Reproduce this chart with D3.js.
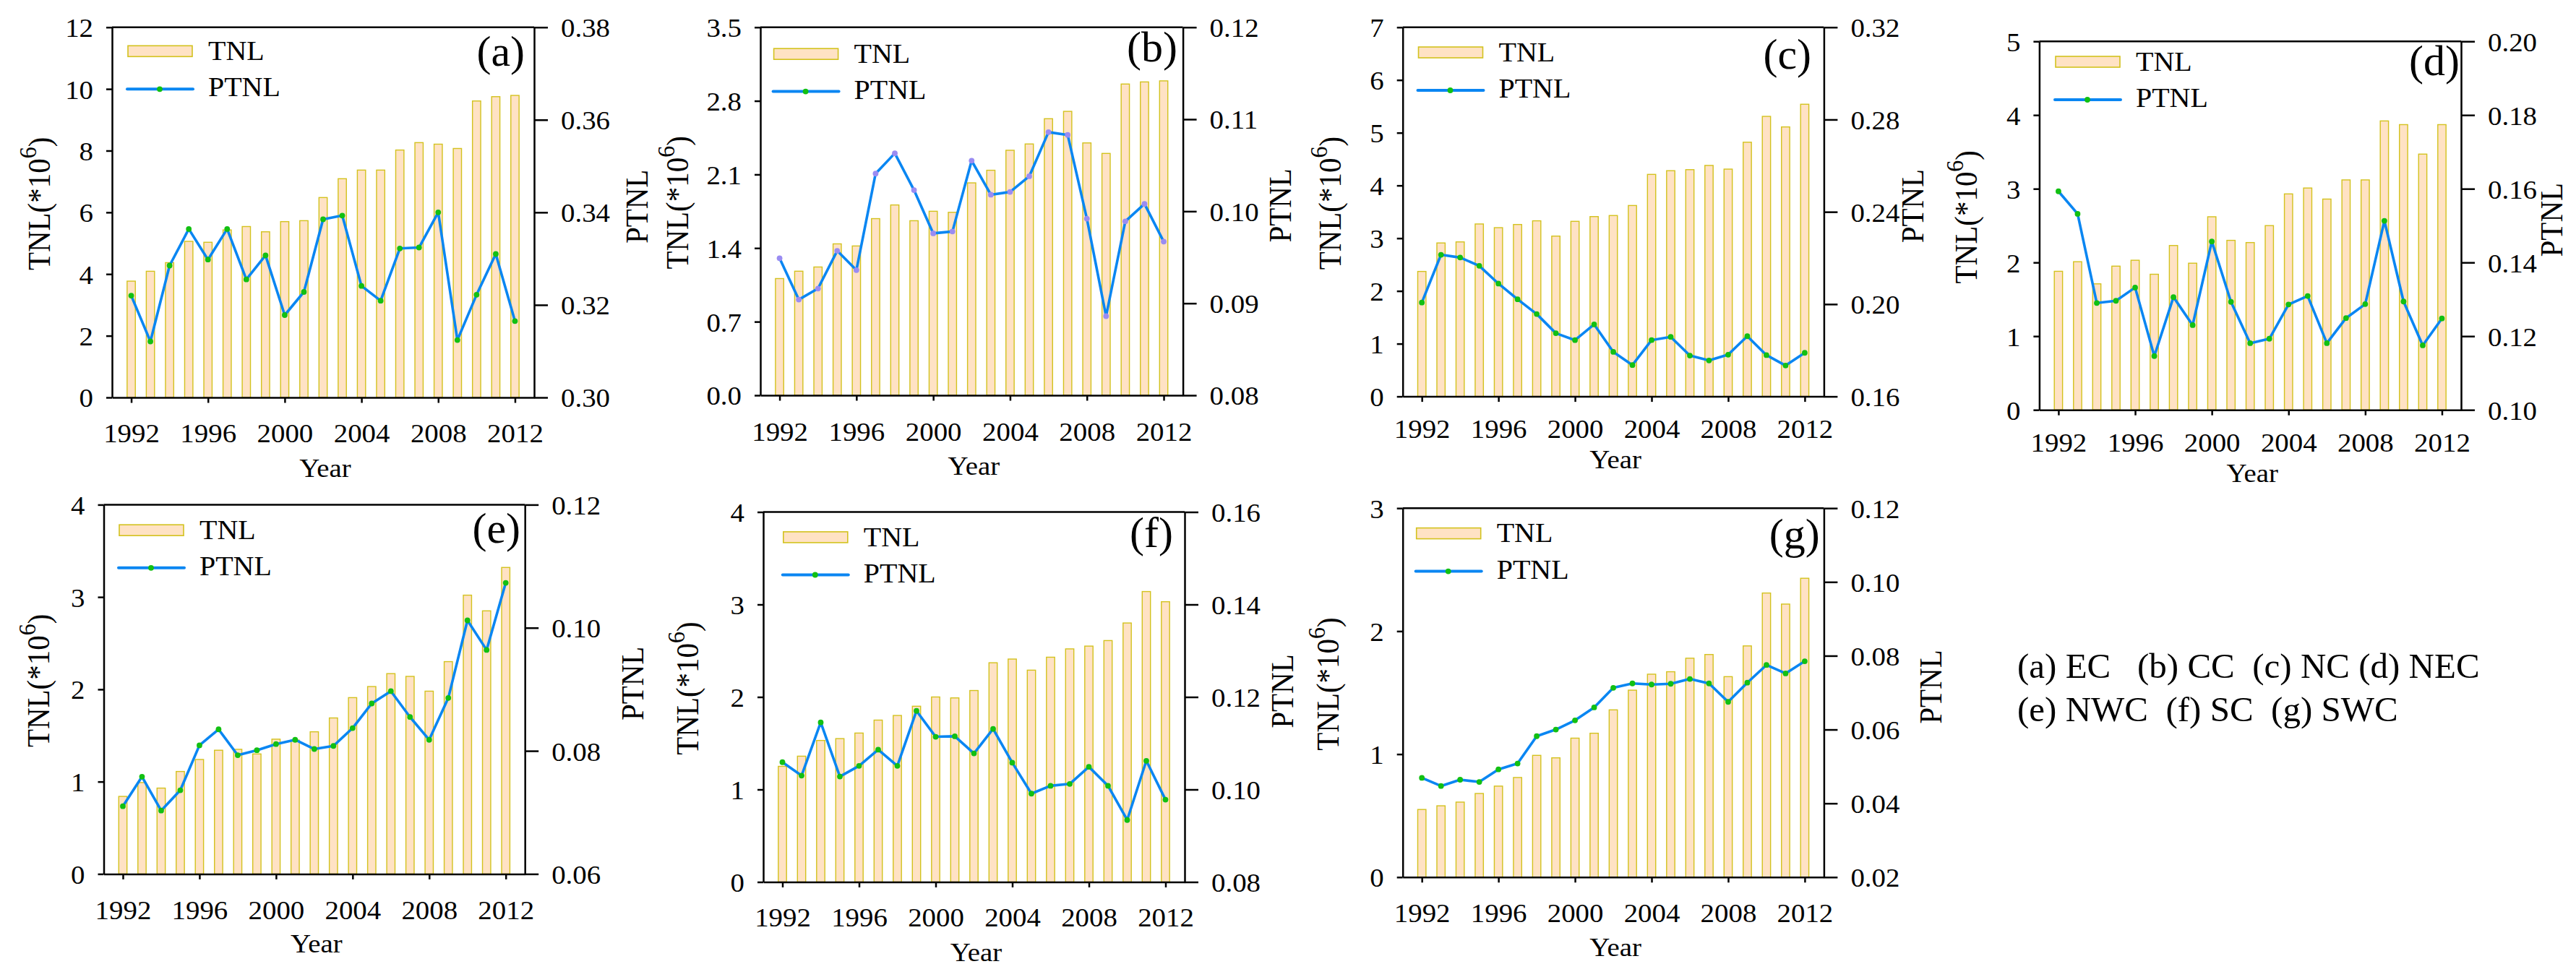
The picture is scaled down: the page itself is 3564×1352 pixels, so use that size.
<!DOCTYPE html>
<html>
<head>
<meta charset="utf-8">
<script src="https://cdn.jsdelivr.net/npm/d3@7"></script>
<style>
html,body{margin:0;padding:0;background:#fff;}
svg{display:block;background:#fff;}
text{font-family:"Liberation Serif","Times New Roman",serif;fill:#000;}
</style>
</head>
<body>
<svg id="chart" width="3564" height="1352"></svg>
<script>
// ---------------- DATA ----------------
const years = [1992,1993,1994,1995,1996,1997,1998,1999,2000,2001,2002,2003,2004,2005,2006,2007,2008,2009,2010,2011,2012];
const yearTicks = [1992,1996,2000,2004,2008,2012];

const tnlA  = [3.77,4.09,4.37,5.06,5.03,5.43,5.54,5.37,5.70,5.73,6.48,7.09,7.37,7.37,8.02,8.26,8.21,8.07,9.61,9.75,9.79];
const ptnlA = [0.3220,0.3121,0.3285,0.3364,0.3298,0.3364,0.3255,0.3307,0.3178,0.3228,0.3385,0.3393,0.3241,0.3209,0.3322,0.3324,0.3400,0.3124,0.3222,0.3310,0.3165];
const leftTicksA  = [0,2,4,6,8,10,12];
const rightTicksA = [0.30,0.32,0.34,0.36,0.38];

const tnlB  = [1.11,1.18,1.22,1.44,1.42,1.68,1.81,1.66,1.75,1.74,2.02,2.14,2.33,2.39,2.63,2.70,2.40,2.30,2.96,2.98,2.99];
const ptnlB = [0.0949,0.0904,0.0916,0.0957,0.0936,0.1041,0.1063,0.1023,0.0976,0.0978,0.1055,0.1018,0.1021,0.1038,0.1086,0.1083,0.0992,0.0886,0.0989,0.1008,0.0967];
const leftTicksB  = [0,0.7,1.4,2.1,2.8,3.5];
const rightTicksB = [0.08,0.09,0.10,0.11,0.12];

const tnlC  = [2.37,2.91,2.93,3.27,3.20,3.26,3.33,3.04,3.32,3.41,3.43,3.62,4.21,4.28,4.30,4.38,4.31,4.82,5.31,5.11,5.54];
const ptnlC = [0.2007,0.2214,0.2202,0.2166,0.2089,0.2021,0.1957,0.1874,0.1844,0.1912,0.1793,0.1736,0.1844,0.1858,0.1777,0.1756,0.1781,0.1861,0.1779,0.1734,0.1789];
const leftTicksC  = [0,1,2,3,4,5,6,7];
const rightTicksC = [0.16,0.20,0.24,0.28,0.32];

const tnlD  = [1.88,2.01,1.71,1.95,2.03,1.84,2.23,1.99,2.62,2.30,2.27,2.50,2.93,3.01,2.86,3.12,3.12,3.92,3.87,3.47,3.87];
const ptnlD = [0.1593,0.1532,0.1290,0.1296,0.1332,0.1146,0.1306,0.1230,0.1457,0.1293,0.1181,0.1193,0.1286,0.1309,0.1181,0.1249,0.1287,0.1513,0.1294,0.1175,0.1248];
const leftTicksD  = [0,1,2,3,4,5];
const rightTicksD = [0.10,0.12,0.14,0.16,0.18,0.20];

const tnlE  = [0.84,0.99,0.93,1.11,1.24,1.34,1.35,1.30,1.46,1.45,1.54,1.69,1.91,2.03,2.17,2.14,1.98,2.30,3.02,2.85,3.32];
const ptnlE = [0.0710,0.0758,0.0703,0.0736,0.0809,0.0835,0.0793,0.0801,0.0811,0.0818,0.0803,0.0808,0.0837,0.0877,0.0897,0.0855,0.0818,0.0886,0.1012,0.0964,0.1073];
const leftTicksE  = [0,1,2,3,4];
const rightTicksE = [0.06,0.08,0.10,0.12];

const tnlF  = [1.25,1.36,1.53,1.55,1.61,1.75,1.80,1.90,2.00,1.99,2.07,2.37,2.41,2.29,2.43,2.52,2.55,2.61,2.80,3.14,3.03];
const ptnlF = [0.1059,0.1030,0.1145,0.1028,0.1051,0.1086,0.1051,0.1170,0.1114,0.1115,0.1078,0.1131,0.1058,0.0991,0.1008,0.1012,0.1049,0.1008,0.0934,0.1062,0.0978];
const leftTicksF  = [0,1,2,3,4];
const rightTicksF = [0.08,0.10,0.12,0.14,0.16];

const tnlG  = [0.55,0.58,0.61,0.68,0.74,0.81,0.99,0.97,1.13,1.17,1.36,1.52,1.65,1.67,1.78,1.81,1.63,1.88,2.31,2.22,2.43];
const ptnlG = [0.0469,0.0447,0.0464,0.0458,0.0492,0.0508,0.0582,0.0600,0.0625,0.0660,0.0713,0.0725,0.0722,0.0724,0.0737,0.0725,0.0675,0.0727,0.0775,0.0752,0.0785];
const leftTicksG  = [0,1,2,3];
const rightTicksG = [0.02,0.04,0.06,0.08,0.10,0.12];

const seriesNames = ["TNL","PTNL"];
const axisTitles = {x:"Year", left:"TNL(*10", leftSup:"6", right:"PTNL"};
const regionLines = ["(a) EC   (b) CC  (c) NC (d) NEC", "(e) NWC  (f) SC  (g) SWC"];

const panels = [
  {name:"(a)", tnl:tnlA, ptnl:ptnlA, lt:leftTicksA, rt:rightTicksA, lf:"d",   rf:".2f"},
  {name:"(b)", tnl:tnlB, ptnl:ptnlB, lt:leftTicksB, rt:rightTicksB, lf:".1f", rf:".2f"},
  {name:"(c)", tnl:tnlC, ptnl:ptnlC, lt:leftTicksC, rt:rightTicksC, lf:"d",   rf:".2f"},
  {name:"(d)", tnl:tnlD, ptnl:ptnlD, lt:leftTicksD, rt:rightTicksD, lf:"d",   rf:".2f"},
  {name:"(e)", tnl:tnlE, ptnl:ptnlE, lt:leftTicksE, rt:rightTicksE, lf:"d",   rf:".2f"},
  {name:"(f)", tnl:tnlF, ptnl:ptnlF, lt:leftTicksF, rt:rightTicksF, lf:"d",   rf:".2f"},
  {name:"(g)", tnl:tnlG, ptnl:ptnlG, lt:leftTicksG, rt:rightTicksG, lf:"d",   rf:".2f"}
];

// ---------------- LAYOUT / STYLE ----------------
const layout = [
  {x0:155,  x1:739,  y0:37.7, y1:550,   sx:177,    sy:63.3,  ly:123.3, labX:726,    labY:91,    ylX:69,    yrX:895.5, tOff:62, yOff:110, mk:"#12C012"},
  {x0:1052, x1:1636.6,y0:37.7,y1:547,   sx:1070.6, sy:67.2,  ly:126.6, labX:1629,   labY:85,    ylX:952,   yrX:1786,  tOff:63, yOff:110, mk:"#9A8CF2"},
  {x0:1940.7,x1:2523.4,y0:37.7,y1:548.6,sx:1962.5, sy:65,    ly:125,   labX:2506,   labY:95,    ylX:1854.6,yrX:2661,  tOff:57, yOff:99,  mk:"#12C012"},
  {x0:2821.4,x1:3405, y0:57.2, y1:567.2, sx:2844,   sy:78,    ly:138,   labX:3403,   labY:104,   ylX:2735,  yrX:3544.7,tOff:58, yOff:100, mk:"#12C012"},
  {x0:143.5,x1:726.2, y0:698.4,y1:1209.4,sx:165,    sy:726.2, ly:785.8, labX:720,    labY:750.7, ylX:67.7,  yrX:890,   tOff:63, yOff:109, mk:"#12C012"},
  {x0:1056, x1:1639,  y0:708.5,y1:1220.5,sx:1083.8, sy:735.9, ly:795.5, labX:1623,   labY:757,   ylX:966,   yrX:1789,  tOff:62, yOff:109, mk:"#12C012"},
  {x0:1940.7,x1:2523.4,y0:703.2,y1:1213.8,sx:1959.7,sy:730.6, ly:790.6, labX:2517.7, labY:759,   ylX:1851.8,yrX:2686,  tOff:62, yOff:109, mk:"#12C012"}
];

const SX = 1.08;
const BAR_FILL = "#FFE2C4", BAR_STROKE = "#D3C21E";
const LINE_COL = "#0A86F2", LEG_MK = "#12C012";
const FONT = '"Liberation Serif","Times New Roman",serif';

const svg = d3.select("#chart");
svg.append("rect").attr("width",3564).attr("height",1352).attr("fill","#fff");

function txt(g, x, y, str, size, anchor, rot, sx) {
  return g.append("text")
    .attr("transform", `translate(${x},${y}) scale(${sx===undefined?SX:sx},1)` + (rot ? ` rotate(${rot})` : ""))
    .attr("font-size", size).attr("text-anchor", anchor || "start").text(str);
}

function styleAxis(ax, fs) {
  ax.attr("font-family", FONT).attr("font-size", fs);
  ax.selectAll("path.domain").attr("stroke", "#000").attr("stroke-width", 2.5);
  ax.selectAll(".tick line").attr("stroke", "#000").attr("stroke-width", 2.5);
  ax.selectAll(".tick text").attr("fill", "#000");
}

panels.forEach((p, i) => {
  const L = layout[i];
  const g = svg.append("g");
  const x = d3.scaleLinear().domain([1991, 2013]).range([L.x0, L.x1]);
  const yL = d3.scaleLinear().domain([p.lt[0], p.lt[p.lt.length-1]]).range([L.y1, L.y0]);
  const yR = d3.scaleLinear().domain([p.rt[0], p.rt[p.rt.length-1]]).range([L.y1, L.y0]);
  const bw = 11.4;
  const rows = years.map((yr, k) => ({yr, t:p.tnl[k], q:p.ptnl[k]}));

  // bars
  g.append("g").selectAll("rect").data(rows).join("rect")
    .attr("x", d => x(d.yr) - bw/2).attr("width", bw)
    .attr("y", d => yL(d.t)).attr("height", d => yL(0) - yL(d.t))
    .attr("fill", BAR_FILL).attr("stroke", BAR_STROKE).attr("stroke-width", 1.4);

  // line
  const line = d3.line().x(d => x(d.yr)).y(d => yR(d.q));
  g.append("path").datum(rows).attr("d", line)
    .attr("fill", "none").attr("stroke", LINE_COL).attr("stroke-width", 3.6)
    .attr("stroke-linejoin", "round").attr("stroke-linecap", "round");
  g.append("g").selectAll("circle").data(rows).join("circle")
    .attr("cx", d => x(d.yr)).attr("cy", d => yR(d.q)).attr("r", 3.9)
    .attr("fill", L.mk);

  // axes
  const axL = g.append("g").attr("transform", `translate(${L.x0},0)`)
    .call(d3.axisLeft(yL).tickValues(p.lt).tickFormat(d3.format(p.lf)).tickSize(8).tickSizeOuter(0).tickPadding(18));
  const axR = g.append("g").attr("transform", `translate(${L.x1},0)`)
    .call(d3.axisRight(yR).tickValues(p.rt).tickFormat(d3.format(p.rf)).tickSize(19).tickSizeOuter(0).tickPadding(18));
  const axB = g.append("g").attr("transform", `translate(0,${L.y1})`)
    .call(d3.axisBottom(x).tickValues(yearTicks).tickFormat(d3.format("d")).tickSize(7.5).tickSizeOuter(0));
  [axL, axR, axB].forEach(a => styleAxis(a, 36));
  axL.selectAll(".tick text").attr("dy", "0.36em").each(function(){
    const t = d3.select(this); t.attr("x", +t.attr("x")/SX).attr("transform", `scale(${SX},1)`);
  });
  axR.selectAll(".tick text").attr("dy", "0.36em").each(function(){
    const t = d3.select(this); t.attr("x", +t.attr("x")/SX).attr("transform", `scale(${SX},1)`);
  });
  axB.selectAll(".tick text").attr("y", L.tOff).attr("dy", 0).attr("transform", `scale(${SX},1)`);

  // top frame line
  g.append("line").attr("x1", L.x0).attr("x2", L.x1).attr("y1", L.y0).attr("y2", L.y0)
    .attr("stroke", "#000").attr("stroke-width", 2.5);

  // axis titles
  txt(g, (L.x0 + L.x1)/2 + 3, L.y1 + L.yOff, axisTitles.x, 36, "middle");
  const mid = (L.y0 + L.y1)/2;
  const tl = g.append("text")
    .attr("transform", `translate(${L.ylX},${mid - 12}) scale(${SX},1) rotate(-90)`)
    .attr("font-size", 41).attr("text-anchor", "middle");
  tl.append("tspan").text(axisTitles.left);
  tl.append("tspan").attr("font-size", 32).attr("dy", "-0.55em").text(axisTitles.leftSup);
  tl.append("tspan").attr("dy", "0.45em").text(")");
  txt(g, L.yrX, mid - 8, axisTitles.right, 41, "middle", -90);

  // legend
  g.append("rect").attr("x", L.sx).attr("y", L.sy).attr("width", 89).attr("height", 15)
    .attr("fill", BAR_FILL).attr("stroke", BAR_STROKE).attr("stroke-width", 1.6);
  txt(g, L.sx + 111, L.sy + 19.7, seriesNames[0], 37, "start");
  g.append("line").attr("x1", L.sx - 1).attr("x2", L.sx + 90).attr("y1", L.ly).attr("y2", L.ly)
    .attr("stroke", LINE_COL).attr("stroke-width", 4).attr("stroke-linecap", "round");
  g.append("circle").attr("cx", L.sx + 44).attr("cy", L.ly).attr("r", 3.9).attr("fill", LEG_MK);
  txt(g, L.sx + 111, L.ly + 10, seriesNames[1], 37, "start");

  // panel letter
  txt(g, L.labX, L.labY, p.name, 60, "end", 0, 1.0);
});

// region names
const rg = svg.append("g");
regionLines.forEach((s, k) => {
  rg.append("text").attr("x", 2791).attr("y", k === 0 ? 938 : 997.6)
    .attr("font-size", 49).attr("xml:space", "preserve").style("white-space", "pre").text(s);
});
</script>
</body>
</html>
